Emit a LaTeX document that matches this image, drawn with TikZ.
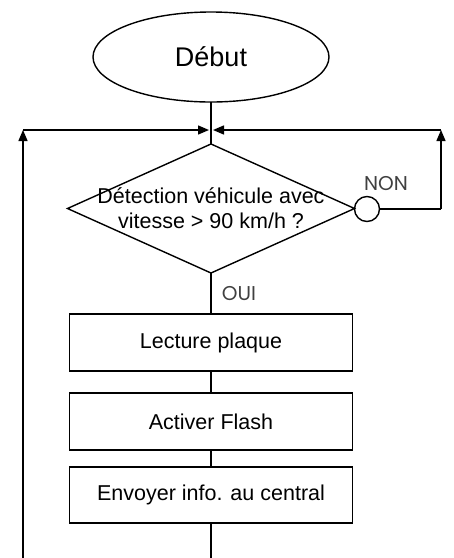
\documentclass[tikz,border=0pt]{standalone}
\usepackage{fontspec}
\setmainfont{Liberation Sans}
\newfontfamily\labelfont{Poppins}
\usetikzlibrary{shapes.geometric,arrows.meta}

\tikzset{
  flow/.style = {line width=1.4pt},
  >={Triangle[length=11pt,width=9pt]},
  startbox/.style = {draw, flow, ellipse, minimum width=236pt, minimum height=90pt,
    inner sep=0pt, outer sep=0pt, font=\fontsize{27}{30}\selectfont},
  testbox/.style = {draw, flow, diamond, minimum width=287pt, minimum height=129pt,
    inner sep=0pt, outer sep=0pt},
  actionbox/.style = {draw, flow, rectangle, minimum width=283pt, minimum height=57pt,
    inner sep=0pt, outer sep=0pt, font=\fontsize{21.5}{25}\selectfont},
  joint/.style = {draw, flow, circle, minimum size=25pt, inner sep=0pt, outer sep=0pt},
  answer/.style = {text=black!75, font=\labelfont\fontsize{20}{22}\selectfont}
}

\begin{document}
\begin{tikzpicture}[x=1pt, y=-1pt]
    \useasboundingbox (0,0) rectangle (454,558);

    % blocks
    \node[startbox] (start) at (211,57) {Début};
    \node[testbox, label={[align=center, font=\fontsize{21.5}{25}\selectfont]center:Détection véhicule avec\\vitesse > 90 km/h ?}] (test) at (211,208.5) {};
    \node[joint] (non) at (367,209) {};
    \node[actionbox] (lecture) at (211,342.5) {Lecture plaque};
    \node[actionbox] (flash) at (211,421.5) {Activer Flash};
    \node[actionbox, minimum height=56pt] (envoi) at (211,495) {Envoyer info. au central};

    \node[answer] (nonlabel) at (386,184) {NON};
    \node[answer] (ouilabel) at (239,294) {OUI};

    % loop points
    \coordinate (join) at (211,130);
    \coordinate (cl) at (23,130);
    \coordinate (cr) at (441,130);
    \coordinate (nr) at (441,209);
    \coordinate (bl) at (23,558);
    \coordinate (bm) at (211,558);

    \draw[flow] (start) -- (test);
    \draw[flow] (test) -- (lecture);
    \draw[flow] (lecture) -- (flash);
    \draw[flow] (flash) -- (envoi);
    \draw[flow] (envoi) -- (bm);

    % return branches
    \draw[flow, ->] (bl) -- (cl);
    \draw[flow, ->, shorten >=2pt] (cl) -- (join);
    \draw[flow] (non) -- (nr);
    \draw[flow, ->] (nr) -- (cr);
    \draw[flow, ->, shorten >=2pt] (cr) -- (join);

\end{tikzpicture}
\end{document}
